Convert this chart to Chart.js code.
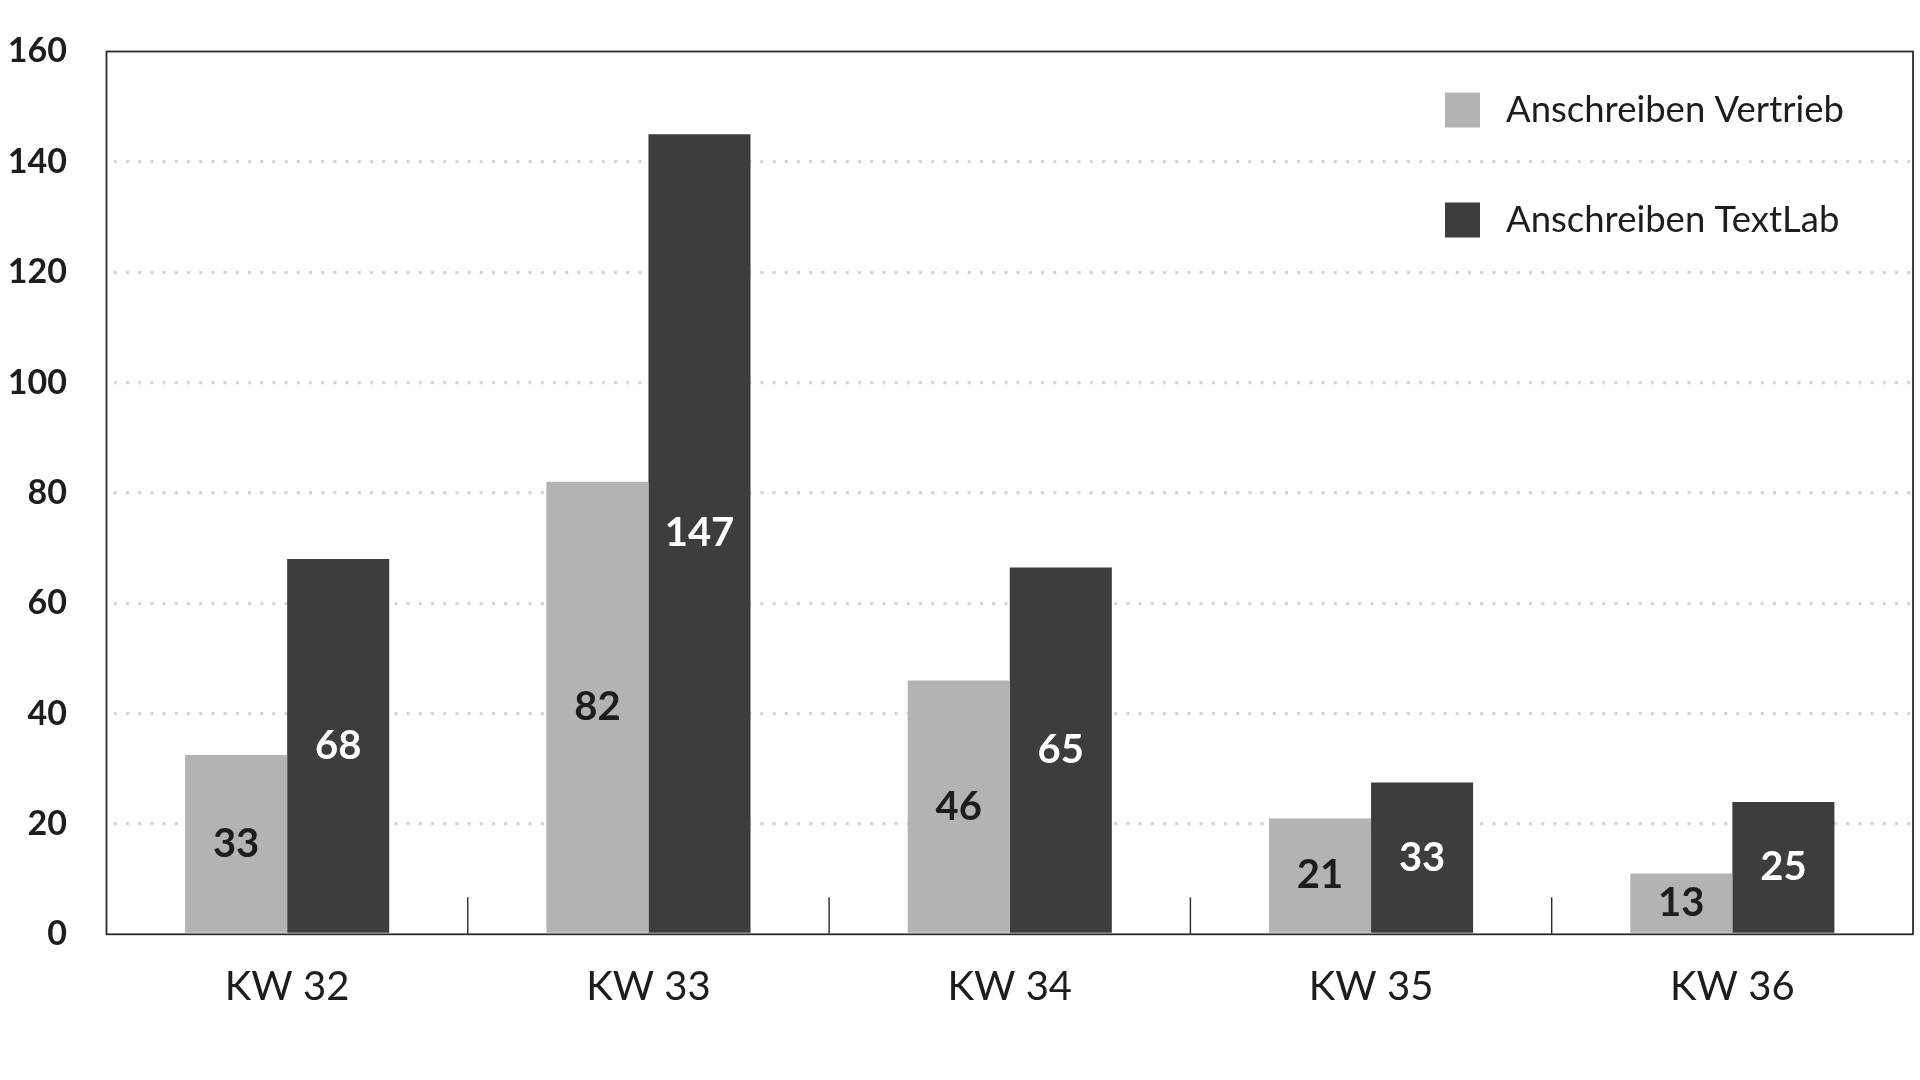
<!DOCTYPE html>
<html lang="de">
<head>
<meta charset="utf-8">
<title>Anschreiben Vertrieb vs. TextLab</title>
<script src="https://cdn.jsdelivr.net/npm/chart.js@4/dist/chart.umd.min.js"></script>
<style>
    html, body { margin: 0; padding: 0; background: #fff; }
    #wrap { width: 1920px; height: 1080px; position: relative; }
</style>
</head>
<body>
<div id="wrap"><canvas id="chartAnschreiben"></canvas></div>
<script>
// Kalenderwochen
const wochen = ['KW 32', 'KW 33', 'KW 34', 'KW 35', 'KW 36'];

// Balkenhöhen, so wie sie im Original gezeichnet sind
const anschreibenVertrieb = [32.5, 82, 46, 21, 11];
const anschreibenTextLab = [68, 145, 66.5, 27.5, 24];

// Zahlen, die im Original auf den Balken stehen (weichen teils von der Höhe ab)
const beschriftungVertrieb = ['33', '82', '46', '21', '13'];
const beschriftungTextLab = ['68', '147', '65', '33', '25'];

// Y-Achse
const yMin = 0;
const yMax = 160;
const yStep = 20;

const FONT = 'Lato, "Open Sans", sans-serif';
const TEXT_COLOR = '#1d1d1f';

// Rahmen um den Plotbereich + kurze Trennstriche zwischen den Wochen
const rahmenPlugin = {
    id: 'rahmen',
    afterDraw(chart) {
        const { ctx, chartArea: a } = chart;
        const x = chart.scales.x;
        ctx.save();
        ctx.strokeStyle = '#2b2b2d';
        ctx.lineWidth = 1.8;
        ctx.strokeRect(a.left, a.top, a.right - a.left, a.bottom - a.top);
        ctx.lineWidth = 1.4;
        for (let i = 1; i < wochen.length; i++) {
            const px = (x.getPixelForValue(i - 1) + x.getPixelForValue(i)) / 2;
            ctx.beginPath();
            ctx.moveTo(px, a.bottom);
            ctx.lineTo(px, a.bottom - 37);
            ctx.stroke();
        }
        ctx.restore();
    }
};

// Zahlen mittig in die Balken schreiben
const balkenText = {
    id: 'balkenText',
    afterDatasetsDraw(chart) {
        const { ctx } = chart;
        ctx.save();
        ctx.font = 'bold 40px ' + FONT;
        ctx.textAlign = 'center';
        ctx.textBaseline = 'middle';
        chart.data.datasets.forEach(function(ds, di) {
            const meta = chart.getDatasetMeta(di);
            meta.data.forEach(function(bar, i) {
                ctx.fillStyle = ds.textColor;
                ctx.fillText(ds.beschriftung[i], bar.x, (bar.y + bar.base) / 2);
            });
        });
        ctx.restore();
    }
};

// Legende oben rechts im Plotbereich
const legendePlugin = {
    id: 'legende',
    afterDraw(chart) {
        const { ctx } = chart;
        ctx.save();
        ctx.font = '36.5px ' + FONT;
        ctx.textAlign = 'left';
        ctx.textBaseline = 'middle';
        chart.data.datasets.forEach(function(ds, i) {
            const cy = 110 + i * 110;
            ctx.fillStyle = ds.backgroundColor;
            ctx.fillRect(1445, cy - 17.5, 35, 35);
            ctx.fillStyle = TEXT_COLOR;
            ctx.fillText(ds.label, 1506, cy);
        });
        ctx.restore();
    }
};

document.addEventListener('DOMContentLoaded', function() {
    const ctx = document.getElementById('chartAnschreiben').getContext('2d');

    new Chart(ctx, {
        type: 'bar',
        data: {
            labels: wochen,
            datasets: [
                {
                    label: 'Anschreiben Vertrieb',
                    data: anschreibenVertrieb,
                    beschriftung: beschriftungVertrieb,
                    textColor: '#1d1d1f',
                    backgroundColor: '#b2b3b5',
                    borderWidth: 0,
                    categoryPercentage: 0.565,
                    barPercentage: 1
                },
                {
                    label: 'Anschreiben TextLab',
                    data: anschreibenTextLab,
                    beschriftung: beschriftungTextLab,
                    textColor: '#ffffff',
                    backgroundColor: '#3d3d3f',
                    borderWidth: 0,
                    categoryPercentage: 0.565,
                    barPercentage: 1
                }
            ]
        },
        options: {
            responsive: true,
            maintainAspectRatio: false,
            animation: false,
            layout: {
                padding: { left: 0, top: 51.5, right: 7, bottom: 0 }
            },
            plugins: {
                legend: { display: false },
                tooltip: { enabled: false }
            },
            scales: {
                x: {
                    grid: { display: false, drawTicks: false },
                    border: { display: false },
                    ticks: {
                        color: TEXT_COLOR,
                        font: { family: FONT, size: 40 },
                        padding: 29,
                        maxRotation: 0
                    },
                    afterFit: function(scale) { scale.height = 145.7; }
                },
                y: {
                    min: yMin,
                    max: yMax,
                    grid: {
                        drawTicks: true,
                        tickLength: 39.5,
                        tickColor: 'rgba(0,0,0,0)',
                        lineWidth: 3.2,
                        color: function(c) {
                            const v = c.tick && c.tick.value;
                            if (v === yMin || v === yMax) return 'rgba(0,0,0,0)';
                            return '#d6d6d6';
                        }
                    },
                    border: { display: false, dash: [3.2, 9], dashOffset: 5.5 },
                    ticks: {
                        stepSize: yStep,
                        color: TEXT_COLOR,
                        font: { family: FONT, size: 34, weight: 'bold' },
                        padding: 0
                    },
                    afterFit: function(scale) { scale.width = 106.5; }
                }
            }
        },
        plugins: [rahmenPlugin, balkenText, legendePlugin]
    });
});
</script>
</body>
</html>
